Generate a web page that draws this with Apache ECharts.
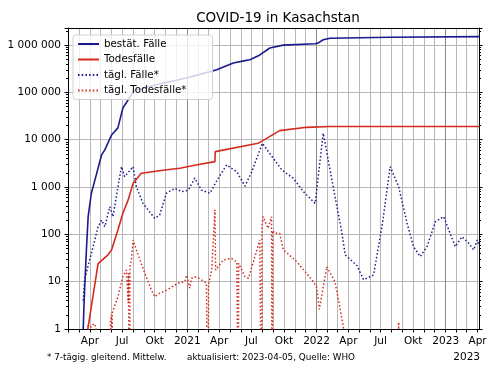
<!DOCTYPE html>
<html>
<head>
<meta charset="utf-8">
<script src="https://cdn.jsdelivr.net/npm/echarts@6/dist/echarts.min.js"></script>
<style>
  html, body { margin: 0; padding: 0; background: #fff; }
  #chart { width: 500px; height: 375px; }
</style>
</head>
<body>
<div id="chart"></div>
<script>
// axis range (days)
var firstDay = '2020-01-30';
var lastDay = '2023-04-05';
var monthNames = { '04': 'Apr', '07': 'Jul', '10': 'Okt' };

// 0.001 = a zero day (falls below the log axis)
var casesTotal = [
  ['2020-03-13', 1], ['2020-03-15', 3], ['2020-03-17', 7], ['2020-03-22', 47],
  ['2020-03-27', 240], ['2020-04-05', 740], ['2020-04-15', 1400], ['2020-05-04', 4800],
  ['2020-05-13', 6100], ['2020-06-01', 12600], ['2020-06-19', 17800], ['2020-07-03', 47000],
  ['2020-07-27', 89000], ['2020-08-03', 110000], ['2020-10-15', 151000], ['2021-01-01', 204000],
  ['2021-03-07', 275000], ['2021-03-25', 300000], ['2021-05-11', 420000], ['2021-06-13', 470000],
  ['2021-06-27', 490000], ['2021-07-25', 620000], ['2021-08-22', 870000], ['2021-09-29', 1000000],
  ['2021-12-28', 1070000], ['2022-01-05', 1100000], ['2022-01-20', 1300000], ['2022-02-08', 1400000],
  ['2022-07-28', 1470000], ['2023-04-05', 1510000]
];
var deathsTotal = [
  ['2020-03-26', 1], ['2020-04-15', 9], ['2020-04-24', 24], ['2020-05-22', 37],
  ['2020-06-01', 47], ['2020-06-19', 124], ['2020-07-03', 280], ['2020-07-18', 535],
  ['2020-08-01', 1200], ['2020-08-24', 1960], ['2020-10-30', 2300], ['2020-12-11', 2500],
  ['2021-01-22', 2900], ['2021-03-20', 3450], ['2021-03-21', 5600], ['2021-07-20', 8400],
  ['2021-09-19', 15600], ['2021-12-04', 18300], ['2022-02-08', 19000], ['2023-04-05', 19100]
];
var casesDaily = [
  ['2020-03-13', 4], ['2020-03-17', 11], ['2020-03-31', 29], ['2020-04-10', 55],
  ['2020-04-24', 145], ['2020-05-04', 200], ['2020-05-13', 145], ['2020-05-27', 385],
  ['2020-06-05', 237], ['2020-06-24', 1660], ['2020-06-29', 2700], ['2020-07-08', 1660],
  ['2020-08-01', 2700], ['2020-08-10', 1020], ['2020-08-29', 450], ['2020-10-01', 218],
  ['2020-10-15', 257], ['2020-11-03', 740], ['2020-11-27', 940], ['2020-12-16', 800],
  ['2021-01-04', 860], ['2021-01-22', 1540], ['2021-02-10', 860], ['2021-03-06', 740],
  ['2021-03-25', 1350], ['2021-04-22', 2940], ['2021-05-21', 2100], ['2021-06-13', 1050],
  ['2021-07-02', 2100], ['2021-08-01', 8400], ['2021-09-25', 2300], ['2021-10-27', 1540],
  ['2021-11-25', 800], ['2021-12-28', 450], ['2022-01-20', 13700], ['2022-02-17', 1020],
  ['2022-03-14', 105], ['2022-03-23', 37], ['2022-04-25', 22], ['2022-05-14', 11],
  ['2022-06-11', 13.8], ['2022-07-05', 145], ['2022-07-28', 2700], ['2022-08-21', 1020],
  ['2022-09-14', 170], ['2022-10-02', 55], ['2022-10-21', 34], ['2022-11-09', 55],
  ['2022-12-03', 185], ['2022-12-26', 237], ['2023-01-28', 55], ['2023-02-16', 89],
  ['2023-03-07', 65], ['2023-03-21', 47], ['2023-03-31', 76], ['2023-04-05', 60]
];
var deathsDaily = [
  ['2020-03-26', 0.001], ['2020-03-27', 1.2], ['2020-04-05', 1.1], ['2020-04-12', 1.3],
  ['2020-04-18', 1.1], ['2020-04-22', 0.001], ['2020-05-27', 0.001], ['2020-05-29', 1.5],
  ['2020-06-01', 2], ['2020-06-02', 0.001], ['2020-06-03', 2.2], ['2020-06-19', 4.8],
  ['2020-07-03', 12.7], ['2020-07-13', 17.7], ['2020-07-18', 3.5], ['2020-07-19', 15],
  ['2020-07-22', 0.001], ['2020-07-23', 20], ['2020-07-27', 29], ['2020-08-01', 76],
  ['2020-08-10', 47], ['2020-09-03', 15], ['2020-09-22', 6.6], ['2020-10-01', 4.8],
  ['2020-10-15', 5.7], ['2020-11-03', 6.6], ['2020-11-27', 8.5], ['2020-12-06', 9.3],
  ['2020-12-25', 10], ['2020-12-30', 13.8], ['2021-01-08', 7.3], ['2021-01-13', 11.8],
  ['2021-01-22', 12.7], ['2021-02-01', 12], ['2021-02-24', 9.3], ['2021-03-01', 0.001],
  ['2021-03-02', 8.5], ['2021-03-11', 17.7], ['2021-03-20', 330], ['2021-03-22', 17.7],
  ['2021-04-13', 29], ['2021-05-06', 31], ['2021-05-21', 26], ['2021-05-25', 0.001],
  ['2021-05-26', 24.5], ['2021-06-13', 12.7], ['2021-06-23', 11.8], ['2021-07-11', 34],
  ['2021-07-25', 76], ['2021-07-30', 0.001], ['2021-07-31', 150], ['2021-08-03', 237],
  ['2021-08-17', 134], ['2021-08-27', 237], ['2021-08-29', 0.001], ['2021-08-30', 120],
  ['2021-09-05', 105], ['2021-09-19', 105], ['2021-09-29', 47], ['2021-11-01', 29],
  ['2021-12-04', 15], ['2021-12-23', 10], ['2022-01-01', 7.8], ['2022-01-09', 2.6],
  ['2022-01-30', 20.7], ['2022-02-22', 10], ['2022-03-04', 4.1], ['2022-03-18', 1.1],
  ['2022-03-20', 0.001], ['2022-08-20', 0.001], ['2022-08-21', 1.4], ['2022-08-22', 0.001],
  ['2023-04-05', 0.001]
];

var days = [];
for (var t = Date.parse(firstDay); t <= Date.parse(lastDay); t += 86400000) {
  days.push(new Date(t).toISOString().slice(0, 10));
}
function monthStart(idx, val) { return val.slice(8) === '01'; }
function quarterStart(idx, val) {
  return val.slice(8) === '01' && ['01', '04', '07', '10'].indexOf(val.slice(5, 7)) >= 0;
}
function yearStart(idx, val) { return val.slice(5) === '01-01'; }
function spaced(v) {
  return String(Math.round(v)).replace(/\B(?=(\d{3})+(?!\d))/g, ' ');
}

var font = 'DejaVu Sans';
var blue = '#1a1a8e';
var red = '#d52b1e';
var dots = [1.5, 2.2];

var chart = echarts.init(document.getElementById('chart'));
chart.setOption({
  animation: false,
  textStyle: { fontFamily: font },
  title: {
    text: 'COVID-19 in Kasachstan',
    left: 273, top: 6, textAlign: 'center',
    textStyle: { fontFamily: font, fontSize: 13.5, fontWeight: 'normal', color: '#000' }
  },
  grid: { left: 68, right: 21, top: 28, bottom: 46 },
  legend: {
    orient: 'vertical', left: 73, top: 35,
    padding: [4, 26, 4, 4], itemGap: 5.5,
    itemWidth: 21, itemHeight: 10,
    backgroundColor: 'rgba(255,255,255,0.8)',
    borderColor: '#d0d0d0', borderWidth: 1, borderRadius: 3,
    itemStyle: { color: 'rgba(0,0,0,0)', borderColor: 'rgba(0,0,0,0)', borderWidth: 0 },
    textStyle: { fontFamily: font, fontSize: 10.3, color: '#000' },
    data: ['bestät. Fälle', 'Todesfälle', 'tägl. Fälle*', 'tägl. Todesfälle*']
  },
  xAxis: [{
    type: 'category', data: days, boundaryGap: false,
    axisLine: { lineStyle: { color: '#000', width: 1 } },
    axisTick: { interval: monthStart, length: 3.5, lineStyle: { color: '#000' } },
    axisLabel: {
      interval: quarterStart, margin: 7, color: '#000', fontSize: 10.5, fontFamily: font,
      formatter: function (val) {
        var m = val.slice(5, 7);
        return m === '01' ? val.slice(0, 4) : monthNames[m];
      }
    },
    splitLine: { show: true, interval: monthStart, lineStyle: { color: '#b8b8b8', width: 1 } }
  }, {
    type: 'category', data: days, boundaryGap: false, position: 'top',
    axisLine: { show: true, lineStyle: { color: '#000', width: 1 } },
    axisTick: { show: false }, axisLabel: { show: false },
    splitLine: { show: true, interval: yearStart, lineStyle: { color: '#8a8a8a', width: 1 } }
  }],
  yAxis: [{
    type: 'log', logBase: 10, min: 1, max: 2300000,
    axisLine: { show: true, lineStyle: { color: '#000', width: 1 } },
    axisTick: { show: true, length: 3.5, lineStyle: { color: '#000' } },
    minorTick: { show: true, splitNumber: 9, length: 2, lineStyle: { color: '#000' } },
    axisLabel: {
      margin: 7, color: '#000', fontSize: 10.5, fontFamily: font,
      showMaxLabel: false, formatter: spaced
    },
    splitLine: { show: true, lineStyle: { color: '#b8b8b8', width: 1 } }
  }, {
    type: 'log', logBase: 10, min: 1, max: 2300000, position: 'right',
    axisLine: { show: true, lineStyle: { color: '#000', width: 1 } },
    axisTick: { show: true, length: 3.5, lineStyle: { color: '#000' } },
    minorTick: { show: true, splitNumber: 9, length: 2, lineStyle: { color: '#000' } },
    axisLabel: { show: false },
    splitLine: { show: false }
  }],
  series: [
    { name: 'bestät. Fälle', type: 'line', data: casesTotal, symbol: 'none',
      lineStyle: { color: blue, width: 1.6 }, itemStyle: { color: blue } },
    { name: 'Todesfälle', type: 'line', data: deathsTotal, symbol: 'none',
      lineStyle: { color: red, width: 1.6 }, itemStyle: { color: red } },
    { name: 'tägl. Fälle*', type: 'line', data: casesDaily, symbol: 'none',
      lineStyle: { color: blue, width: 1.5, type: dots }, itemStyle: { color: blue } },
    { name: 'tägl. Todesfälle*', type: 'line', data: deathsDaily, symbol: 'none',
      lineStyle: { color: red, width: 1.5, type: dots }, itemStyle: { color: red } }
  ],
  graphic: [
    { type: 'text', left: 47, top: 353,
      style: { text: '* 7-tägig. gleitend. Mittelw.', font: '8.8px "DejaVu Sans"', fill: '#000' } },
    { type: 'text', left: 187, top: 353,
      style: { text: 'aktualisiert: 2023-04-05, Quelle: WHO', font: '8.8px "DejaVu Sans"', fill: '#000' } },
    { type: 'text', right: 20, top: 352,
      style: { text: '2023', font: '10.5px "DejaVu Sans"', fill: '#000' } }
  ]
});
</script>
</body>
</html>
